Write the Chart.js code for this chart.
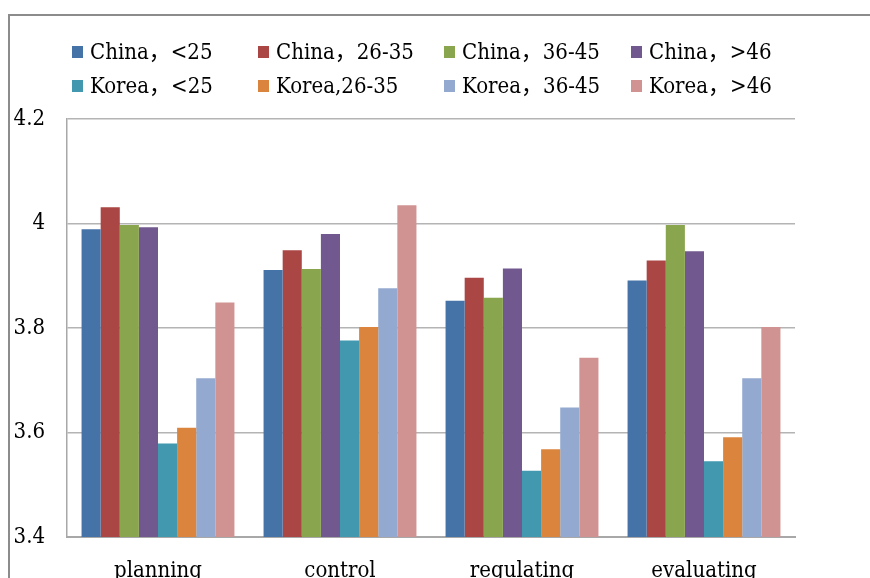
<!DOCTYPE html>
<html>
<head>
<meta charset="utf-8">
<script src="https://cdn.jsdelivr.net/npm/chart.js@4.4.1/dist/chart.umd.min.js"></script>
<style>
  html, body { margin: 0; padding: 0; background: #fff; }
  #wrap { position: relative; width: 870px; height: 578px; overflow: hidden; }
  #frame { position: absolute; left: 8px; top: 14px; width: 900px; height: 600px;
           border-left: 2px solid #8c8c8c; border-top: 2px solid #8c8c8c; }
  #c { position: absolute; left: 0; top: 0; }
  .lg { position: absolute; font-family: "DejaVu Serif Condensed", "Noto Sans CJK SC", serif;
        font-size: 22px; color: #000; white-space: nowrap; line-height: 24px; }
  .lg i { display: inline-block; width: 11px; height: 12px; margin-right: 7px; vertical-align: 1px; }
</style>
</head>
<body>
<div id="wrap">
  <div id="frame"></div>
  <canvas id="c" width="870" height="578"></canvas>
  <div id="legend"></div>
</div>
<script>
const categories = ['planning', 'control', 'regulating', 'evaluating'];
const seriesLabels = ['China，<25', 'China，26-35', 'China，36-45', 'China，>46',
                      'Korea，<25', 'Korea,26-35', 'Korea，36-45', 'Korea，>46'];
const chinaUnder25 = [3.989, 3.911, 3.852, 3.891];
const china26to35  = [4.031, 3.949, 3.896, 3.929];
const china36to45  = [3.997, 3.913, 3.858, 3.997];
const chinaOver46  = [3.993, 3.980, 3.914, 3.947];
const koreaUnder25 = [3.579, 3.776, 3.527, 3.545];
const korea26to35  = [3.609, 3.802, 3.568, 3.591];
const korea36to45  = [3.704, 3.876, 3.648, 3.704];
const koreaOver46  = [3.849, 4.035, 3.743, 3.802];
const yTickLabels = ['3.4', '3.6', '3.8', '4', '4.2'];

const seriesValues = [chinaUnder25, china26to35, china36to45, chinaOver46,
                      koreaUnder25, korea26to35, korea36to45, koreaOver46];
const colors = ['#4572A7', '#AA4643', '#89A54E', '#71588F',
                '#4198AF', '#DB843D', '#93A9CF', '#D19392'];

// HTML legend
const legendCols = [72, 258, 444, 631];
const lg = document.getElementById('legend');
seriesLabels.forEach((lab, i) => {
  const d = document.createElement('div');
  d.className = 'lg';
  d.style.left = legendCols[i % 4] + 'px';
  d.style.top = (40 + Math.floor(i / 4) * 34) + 'px';
  const box = document.createElement('i');
  box.style.background = colors[i];
  d.appendChild(box);
  d.appendChild(document.createTextNode(lab));
  lg.appendChild(d);
});

const axisFont = { family: '"DejaVu Serif Condensed", "DejaVu Serif", serif', size: 22 };

new Chart(document.getElementById('c'), {
  type: 'bar',
  data: {
    labels: categories,
    datasets: seriesValues.map((vals, i) => ({
      label: seriesLabels[i],
      data: vals,
      backgroundColor: colors[i],
      borderWidth: 0
    }))
  },
  options: {
    responsive: false,
    animation: false,
    events: [],
    layout: { padding: { top: 119, right: 75, left: 0, bottom: 0 } },
    plugins: { legend: { display: false }, tooltip: { enabled: false }, title: { display: false } },
    datasets: { bar: { categoryPercentage: 0.84, barPercentage: 1.0 } },
    scales: {
      x: {
        grid: { display: false, drawTicks: false, tickLength: 0 },
        border: { display: true, color: '#a8a8a8', width: 2 },
        ticks: { color: '#000', font: axisFont, padding: 21, maxRotation: 0 },
        afterFit: (s) => { s.height = 41; }
      },
      y: {
        min: 3.4, max: 4.2,
        grid: { color: '#b4b4b4', lineWidth: 1.5, drawTicks: false, tickLength: 0 },
        border: { display: true, color: '#a8a8a8', width: 1.5 },
        ticks: {
          stepSize: 0.2, color: '#000', font: axisFont, padding: 22,
          callback: (v) => {
            const idx = Math.round((v - 3.4) / 0.2);
            return yTickLabels[idx];
          }
        },
        afterFit: (s) => { s.width = 67; }
      }
    }
  }
});
</script>
</body>
</html>
